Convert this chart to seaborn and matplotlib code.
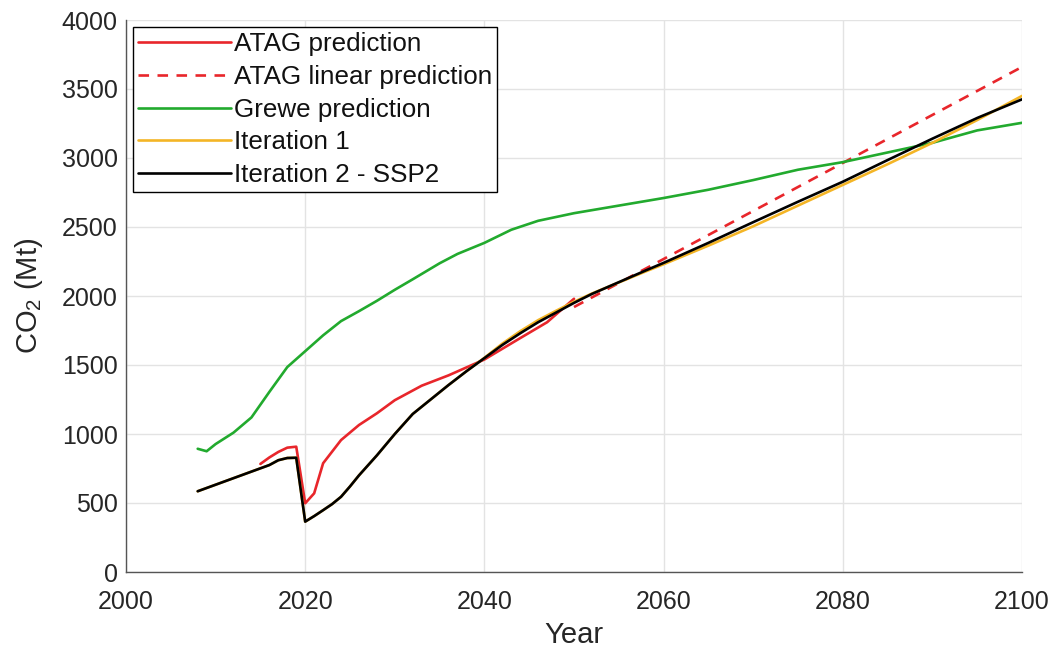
import matplotlib
matplotlib.use("Agg")
import matplotlib.pyplot as plt
import seaborn as sns
import pandas as pd

# ---- data ----
atag_years = [2015, 2016, 2017, 2018, 2019, 2020, 2021, 2022, 2024, 2026, 2028, 2030,
              2033, 2036, 2040, 2044, 2047, 2050]
atag_vals = [783, 830, 870, 901, 908, 498, 570, 788, 956, 1065, 1150, 1245,
             1350, 1425, 1540, 1695, 1810, 1980]

atag_lin_years = [2050, 2100]
atag_lin_vals = [1920, 3660]

grewe_years = [2008, 2009, 2010, 2012, 2014, 2016, 2018, 2020, 2022, 2024, 2026, 2028,
               2030, 2032, 2035, 2037, 2040, 2043, 2046, 2050, 2055, 2060, 2065, 2070,
               2075, 2080, 2085, 2090, 2095, 2100]
grewe_vals = [893, 875, 927, 1010, 1120, 1305, 1485, 1600, 1715, 1818, 1890, 1965,
              2045, 2121, 2237, 2305, 2385, 2480, 2545, 2600, 2655, 2710, 2770, 2840,
              2915, 2970, 3040, 3110, 3200, 3255]

iter_years = [2008, 2012, 2016, 2017, 2018, 2019, 2020, 2021, 2022, 2023, 2024, 2025,
              2026, 2028, 2030, 2032, 2034, 2036, 2038, 2040, 2042, 2044, 2046, 2048,
              2050, 2052, 2055, 2058, 2060, 2065, 2070, 2075, 2080, 2085, 2090, 2095,
              2100]
iter1_vals = [585, 680, 775, 810, 826, 828, 365, 405, 448, 492, 545, 620,
              700, 845, 1000, 1145, 1250, 1355, 1455, 1552, 1655, 1745, 1825, 1893,
              1958, 2018, 2098, 2178, 2230, 2365, 2505, 2655, 2805, 2955, 3110, 3275,
              3450]
iter2_vals = [585, 680, 775, 810, 826, 828, 365, 405, 448, 492, 545, 620,
              700, 845, 1000, 1145, 1250, 1355, 1455, 1550, 1645, 1730, 1810, 1880,
              1950, 2015, 2100, 2185, 2240, 2385, 2535, 2683, 2828, 2985, 3140, 3290,
              3425]

labels = ["ATAG prediction", "ATAG linear prediction", "Grewe prediction",
          "Iteration 1", "Iteration 2 - SSP2"]
x_ticks = [2000, 2020, 2040, 2060, 2080, 2100]
y_ticks = [0, 500, 1000, 1500, 2000, 2500, 3000, 3500, 4000]

# ---- style ----
sns.set_style("whitegrid", {"grid.color": "#e3e3e3", "axes.edgecolor": "#555555"})
plt.rcParams["font.family"] = ["Liberation Sans", "DejaVu Sans"]
plt.rcParams["mathtext.fontset"] = "custom"
plt.rcParams["mathtext.rm"] = "Liberation Sans"

fig = plt.figure(figsize=(10.56, 6.5), dpi=100)
ax = fig.add_axes([126 / 1056, 78 / 650, (1022 - 126) / 1056, (572 - 20) / 650])

lw = 1.9
red = "#e8262b"
green = "#22aa2e"
orange = "#f4b526"

sns.lineplot(x=atag_years, y=atag_vals, ax=ax, color=red, lw=lw, label=labels[0])
sns.lineplot(x=atag_lin_years, y=atag_lin_vals, ax=ax, color=red, lw=lw,
             linestyle=(0, (4, 3.2)), label=labels[1])
sns.lineplot(x=grewe_years, y=grewe_vals, ax=ax, color=green, lw=lw, label=labels[2])
sns.lineplot(x=iter_years, y=iter1_vals, ax=ax, color=orange, lw=lw, label=labels[3])
sns.lineplot(x=iter_years, y=iter2_vals, ax=ax, color="black", lw=lw, label=labels[4])

ax.set_xlim(2000, 2100)
ax.set_ylim(0, 4000)
ax.set_xticks(x_ticks)
ax.set_yticks(y_ticks)
ax.tick_params(axis="both", direction="in", length=5, width=1, color="#555555",
               labelsize=18, labelcolor="#262626")
ax.tick_params(axis="x", pad=13)
ax.tick_params(axis="y", pad=6)
for s in ["top", "right"]:
    ax.spines[s].set_visible(False)
for s in ["left", "bottom"]:
    ax.spines[s].set_linewidth(1.0)
ax.grid(True, color="#e3e3e3", lw=1)

ax.set_xlabel("Year", fontsize=21, color="#262626", labelpad=5)
ax.set_ylabel(r"$\mathregular{CO_2}$ (Mt)", fontsize=21, color="#262626", labelpad=12)

leg = ax.legend(loc="upper left", fontsize=18.7, frameon=True, fancybox=False,
                framealpha=1, edgecolor="black", handlelength=3.55, handletextpad=0.12,
                labelspacing=0.33, borderpad=0.2, borderaxespad=0.28)
leg.get_frame().set_linewidth(1.0)
for t in leg.get_texts():
    t.set_color("#111111")

fig.savefig("out.png", dpi=100)
